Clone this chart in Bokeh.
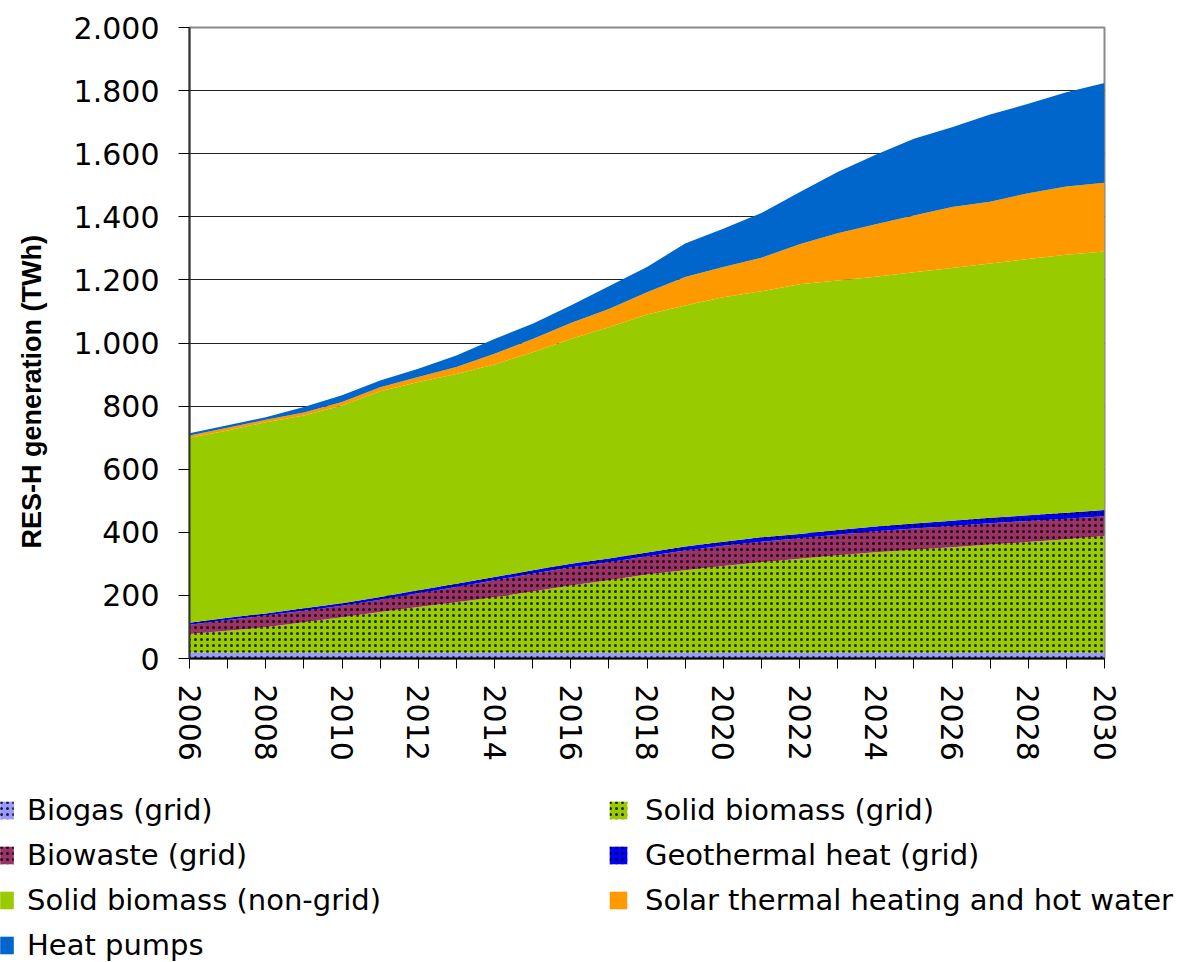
from bokeh.plotting import figure
from bokeh.layouts import column, row
from bokeh.models import (ColumnDataSource, FixedTicker, Legend, LegendItem, Range1d, Label)
from bokeh.transform import stack
from bokeh.embed import file_html
from bokeh.resources import INLINE

# ---- data (TWh) ----
years = list(range(2006, 2031))
biogas = [19, 19, 19, 19, 19, 19, 19, 19, 19, 19, 19, 19, 19,
          19, 19, 19, 19, 19, 19, 19, 19, 19, 19, 19, 19]
solid_biomass_grid = [59, 69, 80, 96, 112, 128, 144, 159, 175, 193, 212, 229, 247,
                      261, 274, 286, 297, 308, 318, 326, 334, 342, 350, 359, 369]
biowaste_grid = [29, 34, 37, 36, 36, 39, 44, 49, 54, 57, 58, 57, 58,
                 62, 64, 65, 65, 65, 66, 67, 67, 68, 67, 65, 63]
geothermal_grid = [6, 7, 7, 8, 8, 9, 9, 10, 10, 11, 11, 12, 12,
                   13, 13, 14, 14, 15, 15, 16, 17, 17, 18, 19, 20]
solid_biomass_nongrid = [587, 594, 606, 611, 627, 652, 660, 665, 674, 691, 713, 733, 754,
                         764, 775, 780, 791, 791, 792, 796, 801, 806, 812, 818, 819]
solar_thermal = [7, 8, 8, 10, 11, 13, 16, 22, 34, 42, 50, 58, 71,
                 90, 96, 106, 127, 150, 166, 180, 193, 196, 209, 216, 218]
heat_pumps = [7, 8, 8, 17, 21, 21, 26, 36, 47, 48, 56, 72, 80,
              106, 121, 142, 165, 194, 221, 243, 253, 276, 283, 299, 316]

series_keys = ["biogas", "sb_grid", "biowaste", "geo", "sb_nongrid", "solar", "hp"]
series_labels = ["Biogas (grid)", "Solid biomass (grid)", "Biowaste (grid)",
                 "Geothermal heat (grid)", "Solid biomass (non-grid)",
                 "Solar thermal heating and hot water", "Heat pumps"]
series_colors = ["#9999FF", "#99CC00", "#993366", "#0000FF", "#99CC00", "#FF9900", "#0066CC"]
series_hatched = [True, True, True, True, False, False, False]

x_tick_values = years
x_tick_labels = ["2006", "", "2008", "", "2010", "", "2012", "", "2014", "", "2016", "",
                 "2018", "", "2020", "", "2022", "", "2024", "", "2026", "", "2028", "", "2030"]
y_tick_values = [0, 200, 400, 600, 800, 1000, 1200, 1400, 1600, 1800, 2000]
y_tick_labels = ["0", "200", "400", "600", "800", "1.000", "1.200", "1.400",
                 "1.600", "1.800", "2.000"]
y_title = "RES-H generation (TWh)"

source = ColumnDataSource(data=dict(
    year=years, biogas=biogas, sb_grid=solid_biomass_grid, biowaste=biowaste_grid,
    geo=geothermal_grid, sb_nongrid=solid_biomass_nongrid, solar=solar_thermal,
    hp=heat_pumps))

FONT = "DejaVu Sans"
W = 1175
TW = 60            # strip holding the y title
H_MAIN = 780
H_LEG = 182
FRAME_L, FRAME_R, FRAME_T, FRAME_B = 189, 1104, 27, 658


def style_kwargs(i):
    kw = dict(fill_color=series_colors[i], fill_alpha=1.0)
    if series_hatched[i]:
        kw.update(hatch_pattern="dot", hatch_color="black", hatch_scale=6,
                  hatch_weight=1, hatch_alpha=0.8)
    return kw


def bare(width, height):
    f = figure(width=width, height=height, x_range=Range1d(0, 1), y_range=Range1d(0, 1),
               x_axis_type=None, y_axis_type=None, output_backend="svg",
               toolbar_location=None, min_border=0)
    f.frame_align = False
    f.outline_line_color = None
    f.grid.visible = False
    f.background_fill_color = "white"
    f.border_fill_color = "white"
    return f


p = figure(width=W - TW, height=H_MAIN, x_range=Range1d(2006, 2030), y_range=Range1d(0, 2000),
           output_backend="svg", toolbar_location=None,
           min_border_left=FRAME_L - TW, min_border_right=W - FRAME_R, min_border_top=FRAME_T,
           min_border_bottom=H_MAIN - FRAME_B)
p.frame_align = False
p.background_fill_color = "white"
p.border_fill_color = "white"
p.outline_line_color = "#8a8a8a"
p.outline_line_width = 2

for i, key in enumerate(series_keys):
    y1 = stack(*series_keys[:i]) if i > 0 else 0
    y2 = stack(*series_keys[:i + 1])
    p.varea(x="year", y1=y1, y2=y2, source=source, **style_kwargs(i))

# x axis
p.xaxis.ticker = FixedTicker(ticks=x_tick_values)
p.xaxis.major_label_overrides = {v: l for v, l in zip(x_tick_values, x_tick_labels)}
p.xaxis.major_label_orientation = "vertical"
p.xaxis.minor_tick_line_color = None
p.xaxis.major_tick_in = 0
p.xaxis.major_tick_out = 10
p.xaxis.major_tick_line_color = "black"
p.xaxis.axis_line_color = "black"
p.xaxis.axis_line_width = 2
p.xaxis.major_label_standoff = 16
p.xaxis.major_label_text_font = FONT
p.xaxis.major_label_text_font_size = "30px"
p.xaxis.major_label_text_color = "black"

# y axis
p.yaxis.ticker = FixedTicker(ticks=y_tick_values)
p.yaxis.major_label_overrides = {v: l for v, l in zip(y_tick_values, y_tick_labels)}
p.yaxis.minor_tick_line_color = None
p.yaxis.major_tick_in = 0
p.yaxis.major_tick_out = 11
p.yaxis.major_tick_line_color = "black"
p.yaxis.axis_line_color = "#333333"
p.yaxis.axis_line_width = 2
p.yaxis.major_label_standoff = 19
p.yaxis.major_label_text_font = FONT
p.yaxis.major_label_text_font_size = "30px"
p.yaxis.major_label_text_color = "black"

p.xgrid.visible = False
p.ygrid.ticker = FixedTicker(ticks=y_tick_values)
p.ygrid.grid_line_color = "#222222"
p.ygrid.grid_line_width = 1

# y title strip (title sits low, as in the reference)
tf = bare(TW, H_MAIN)
tf.add_layout(Label(x=31, y=H_MAIN - 548, x_units="screen", y_units="screen",
                    text=y_title, angle=90, angle_units="deg",
                    text_align="left", text_baseline="middle",
                    text_font="Liberation Sans", text_font_style="bold",
                    text_font_size="27px", text_color="black"))

# legend strip below the chart (two columns)
lf = bare(W, H_LEG)
leg_renderers = []
for i in range(len(series_keys)):
    # zero-size areas that only carry each series' style for its legend swatch
    leg_renderers.append(lf.varea(x=[-1], y1=[-1], y2=[-1], **style_kwargs(i)))

ROW = 45
TOP = 7.5
col1 = [0, 2, 4, 6]
col2 = [1, 3, 5]
common = dict(orientation="vertical", padding=0, margin=0, spacing=0, label_height=ROW,
              glyph_height=22, border_line_color=None, background_fill_alpha=0,
              label_text_font=FONT, label_text_font_size="29px", label_text_color="black")
leg1 = Legend(items=[LegendItem(label=series_labels[i], renderers=[leg_renderers[i]]) for i in col1],
              location=(-2, H_LEG - ROW * len(col1) - TOP), glyph_width=17, label_standoff=12,
              **common)
leg2 = Legend(items=[LegendItem(label=series_labels[i], renderers=[leg_renderers[i]]) for i in col2],
              location=(607, H_LEG - ROW * len(col2) - TOP), glyph_width=22, label_standoff=16,
              **common)
lf.add_layout(leg1, "center")
lf.add_layout(leg2, "center")

layout = column(row(tf, p, spacing=0), lf, spacing=0)
open("out.html", "w").write(file_html(layout, INLINE))
